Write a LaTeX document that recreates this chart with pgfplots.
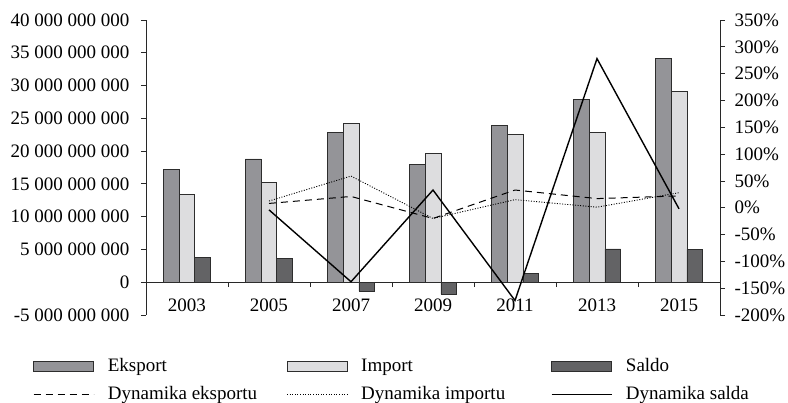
\documentclass[border=0pt]{standalone}
\usepackage{pgfplots}
\pgfplotsset{compat=1.18}
\usepackage{fontspec}
\setmainfont{Liberation Serif}
\definecolor{cE}{RGB}{148,148,152}
\definecolor{cI}{RGB}{221,221,223}
\definecolor{cS}{RGB}{99,99,101}
\definecolor{cEdge}{RGB}{45,45,45}
\definecolor{cAx}{RGB}{40,40,40}

\pgfplotstableread{
x  eks     imp     sal
0  17.2e9  13.4e9  3.77e9
1  18.8e9  15.2e9  3.6e9
2  22.9e9  24.2e9  -1.37e9
3  18.0e9  19.7e9  -1.83e9
4  23.9e9  22.6e9  1.33e9
5  27.9e9  22.8e9  5.08e9
6  34.1e9  29.1e9  5.0e9
}\bars

\pgfplotstableread{
x  deks  dimp  dsal
1  8     12.5  -4
2  21    59    -138
3  -20   -20   33
4  33    15    -173
5  17    1     278
6  22    28    -2
}\dyn

\begin{document}
\fontsize{19bp}{22bp}\selectfont
\begin{tikzpicture}
\pgfplotsset{
  every axis/.append style={
    width=574bp, height=295bp, scale only axis,
    xmin=-0.5, xmax=6.5,
    axis line style={cAx, line width=0.8bp, -},
    tick style={cAx, line width=0.8bp},
    major tick length=5bp,
    tick align=outside,
    tick label style={font=\fontsize{19bp}{22bp}\selectfont},
    scaled y ticks=false,
  },
  barlegend/.style={legend image code/.code={\draw[##1] (0bp,-5bp) rectangle (60bp,5bp);}},
  linelegend/.style={legend image code/.code={\draw[##1] (0bp,0bp) -- (60bp,0bp);}},
}
\begin{axis}[
  axis y line*=left,
  axis x line*=middle,
  hide obscured x ticks=false,
  ymin=-5e9, ymax=40e9,
  ytick={-5e9,0,5e9,10e9,15e9,20e9,25e9,30e9,35e9,40e9},
  yticklabels={-5 000 000 000,0,5 000 000 000,10 000 000 000,15 000 000 000,20 000 000 000,25 000 000 000,30 000 000 000,35 000 000 000,40 000 000 000},
  yticklabel style={xshift=-5bp},
  xtick={-0.5,0.5,...,6.5},
  x tick label as interval,
  xticklabels={2003,2005,2007,2009,2011,2013,2015},
  xticklabel style={yshift=-5bp},
  clip=false,
]
\addplot[ybar, bar width=15.7bp, bar shift=-15.7bp, fill=cE, draw=cEdge, line width=0.7bp] table[x=x,y=eks]{\bars};
\addplot[ybar, bar width=15.7bp, bar shift=0bp, fill=cI, draw=cEdge, line width=0.7bp] table[x=x,y=imp]{\bars};
\addplot[ybar, bar width=15.7bp, bar shift=15.7bp, fill=cS, draw=cEdge, line width=0.7bp] table[x=x,y=sal]{\bars};
\end{axis}
\begin{axis}[
  axis y line*=right,
  axis x line=none,
  ymin=-200, ymax=350,
  ytick={-200,-150,...,350},
  yticklabels={-200\%,-150\%,-100\%,-50\%,0\%,50\%,100\%,150\%,200\%,250\%,300\%,350\%},
  yticklabel style={xshift=3bp},
  legend columns=3,
  legend cell align=left,
  legend style={draw=none, fill=none, at={([xshift=-113bp,yshift=-41.4bp]rel axis cs:0,0)}, anchor=north west,
    font=\fontsize{19bp}{22bp}\selectfont, column sep=11.7bp, row sep=8bp, inner sep=0bp},
]
\addlegendimage{barlegend, fill=cE, draw=cEdge, line width=0.7bp}
\addlegendentry{\makebox[165bp][l]{Eksport}}
\addlegendimage{barlegend, fill=cI, draw=cEdge, line width=0.7bp}
\addlegendentry{\makebox[176bp][l]{Import}}
\addlegendimage{barlegend, fill=cS, draw=cEdge, line width=0.7bp}
\addlegendentry{Saldo}
\addplot[linelegend, black, line width=1bp, dash pattern=on 7bp off 5bp] table[x=x,y=deks]{\dyn};
\addlegendentry{\makebox[165bp][l]{Dynamika eksportu}}
\addplot[linelegend, black, line width=0.9bp, dash pattern=on 1bp off 1.6bp] table[x=x,y=dimp]{\dyn};
\addlegendentry{\makebox[176bp][l]{Dynamika importu}}
\addplot[linelegend, black, line width=1.4bp] table[x=x,y=dsal]{\dyn};
\addlegendentry{Dynamika salda}
\end{axis}
\pgfresetboundingbox
\useasboundingbox ([xshift=-146bp,yshift=20bp]current axis.north west) rectangle ([xshift=68bp,yshift=-88bp]current axis.south east);
\end{tikzpicture}
\end{document}
